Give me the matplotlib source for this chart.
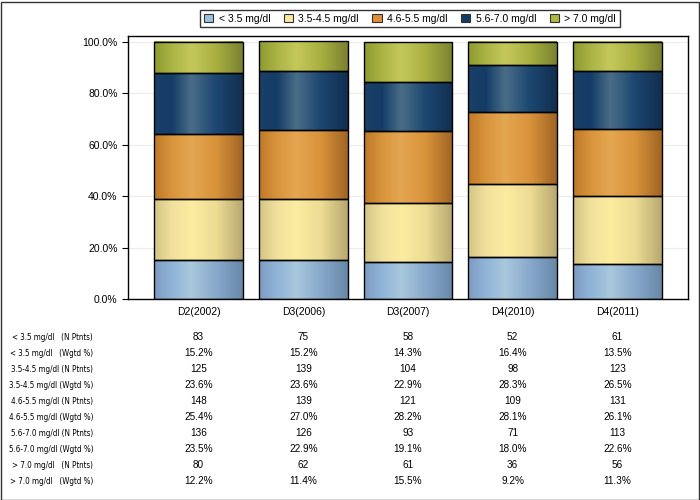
import numpy as np
import matplotlib
matplotlib.use('Agg')
from matplotlib import pyplot as plt
from matplotlib import font_manager
from matplotlib.colors import LinearSegmentedColormap
from matplotlib.patches import Rectangle, Patch

plt.rcParams['font.family'] = ['Liberation Sans', 'DejaVu Sans']

groups = ['D2(2002)', 'D3(2006)', 'D3(2007)', 'D4(2010)', 'D4(2011)']
series = ['< 3.5 mg/dl', '3.5-4.5 mg/dl', '4.6-5.5 mg/dl', '5.6-7.0 mg/dl', '> 7.0 mg/dl']

pct_lt35 = [15.2, 15.2, 14.3, 16.4, 13.5]
pct_35_45 = [23.6, 23.6, 22.9, 28.3, 26.5]
pct_46_55 = [25.4, 27.0, 28.2, 28.1, 26.1]
pct_56_70 = [23.5, 22.9, 19.1, 18.0, 22.6]
pct_gt70 = [12.2, 11.4, 15.5, 9.2, 11.3]

n_lt35 = [83, 75, 58, 52, 61]
n_35_45 = [125, 139, 104, 98, 123]
n_46_55 = [148, 139, 121, 109, 131]
n_56_70 = [136, 126, 93, 71, 113]
n_gt70 = [80, 62, 61, 36, 56]

pcts = [pct_lt35, pct_35_45, pct_46_55, pct_56_70, pct_gt70]
counts = [n_lt35, n_35_45, n_46_55, n_56_70, n_gt70]

# gradient stops per series (left edge -> highlight -> right edge)
grad_colors = [
    ['#7C9CC0', '#90B4D8', '#A8C8DC', '#88A8CC', '#6888A8'],
    ['#D4C484', '#F0E09C', '#FCECA0', '#ECDC94', '#B8A870'],
    ['#C07828', '#D8943C', '#E4A650', '#D8923A', '#A06424'],
    ['#1A4068', '#143C66', '#4A6E88', '#1C4670', '#122E50'],
    ['#8E9A30', '#AAB444', '#C4C85A', '#A8B040', '#7A8030'],
]
legend_colors = ['#9CC0E4', '#FCE89C', '#E09038', '#143C66', '#B0B840']
stops = [0, 0.2, 0.42, 0.7, 1.0]

# a condensed face for the table labels if one is installed
label_prop = font_manager.FontProperties(family='Liberation Sans', size=6.1)
for f in font_manager.fontManager.ttflist:
    if f.stretch in ('condensed', 'semi-condensed') and f.style == 'normal' and f.weight in (400, 'normal'):
        if 'DejaVu Sans' in f.name or 'Open Sans' in f.name or 'Noto Sans' == f.name:
            label_prop = font_manager.FontProperties(fname=f.fname, size=5.75)
            break

fig = plt.figure(figsize=(7, 5), dpi=100)
ax = fig.add_axes([128 / 700, 1 - 299 / 500, 560 / 700, 263 / 500])

x = np.arange(len(groups))
width = 0.85
grad = np.linspace(0, 1, 256).reshape(1, -1)

bottoms = np.zeros(len(groups))
for i, vals in enumerate(pcts):
    cmap = LinearSegmentedColormap.from_list('s%d' % i, list(zip(stops, grad_colors[i])))
    for j, v in enumerate(vals):
        x0 = x[j] - width / 2
        ax.imshow(grad, extent=[x0, x0 + width, bottoms[j], bottoms[j] + v],
                  aspect='auto', cmap=cmap, zorder=2, interpolation='bilinear')
        ax.add_patch(Rectangle((x0, bottoms[j]), width, v, fill=False,
                               edgecolor='black', linewidth=1.0, zorder=3))
    bottoms += np.array(vals)

ax.set_xlim(-0.675, len(groups) - 1 + 0.675)
ax.set_ylim(0, 102.2)
ax.set_yticks([0, 20, 40, 60, 80, 100])
ax.set_yticklabels(['%.1f%%' % t for t in [0, 20, 40, 60, 80, 100]], fontsize=7.5)
ax.set_xticks(x)
ax.set_xticklabels(groups, fontsize=7.5)
ax.tick_params(axis='x', length=0, pad=6)
ax.tick_params(axis='y', length=4, width=0.8)
ax.grid(axis='y', color='#ececec', linewidth=0.8, zorder=0)
ax.set_axisbelow(True)
for s in ax.spines.values():
    s.set_linewidth(1.0)

# legend
handles = [Patch(facecolor=c, edgecolor='#333333', linewidth=0.8) for c in legend_colors]
fig.legend(handles, series, loc='center', bbox_to_anchor=(410 / 700, 1 - 18.5 / 500),
           ncol=5, fontsize=7.5, frameon=True, fancybox=False, edgecolor='black',
           handlelength=0.9, handleheight=0.9, handletextpad=0.5, columnspacing=1.3,
           borderpad=0.35)

# data table below the chart
row_labels = []
row_values = []
for s, n, p in zip(series, counts, pcts):
    pad = '   ' if s.startswith('<') or s.startswith('>') else ' '
    row_labels.append(s + pad + '(N Ptnts)')
    row_values.append([str(v) for v in n])
    row_labels.append(s + pad + '(Wgtd %)')
    row_values.append(['%.1f%%' % v for v in p])

centers = [ax.transData.transform((xi, 0))[0] / 700 for xi in x]
for r, (lab, vals) in enumerate(zip(row_labels, row_values)):
    yy = 1 - (337 + 16 * r) / 500
    fig.text(93 / 700, yy, lab, ha='right', va='center', fontproperties=label_prop)
    for cx, v in zip(centers, vals):
        fig.text(cx, yy, v, ha='center', va='center', fontsize=7.2)

# outer frame
fig.patches.append(Rectangle((0.5 / 700, 0.5 / 500), 698 / 700, 498 / 500, transform=fig.transFigure,
                             fill=False, edgecolor='#333333', linewidth=1.0))

fig.savefig('out.png', dpi=100)
